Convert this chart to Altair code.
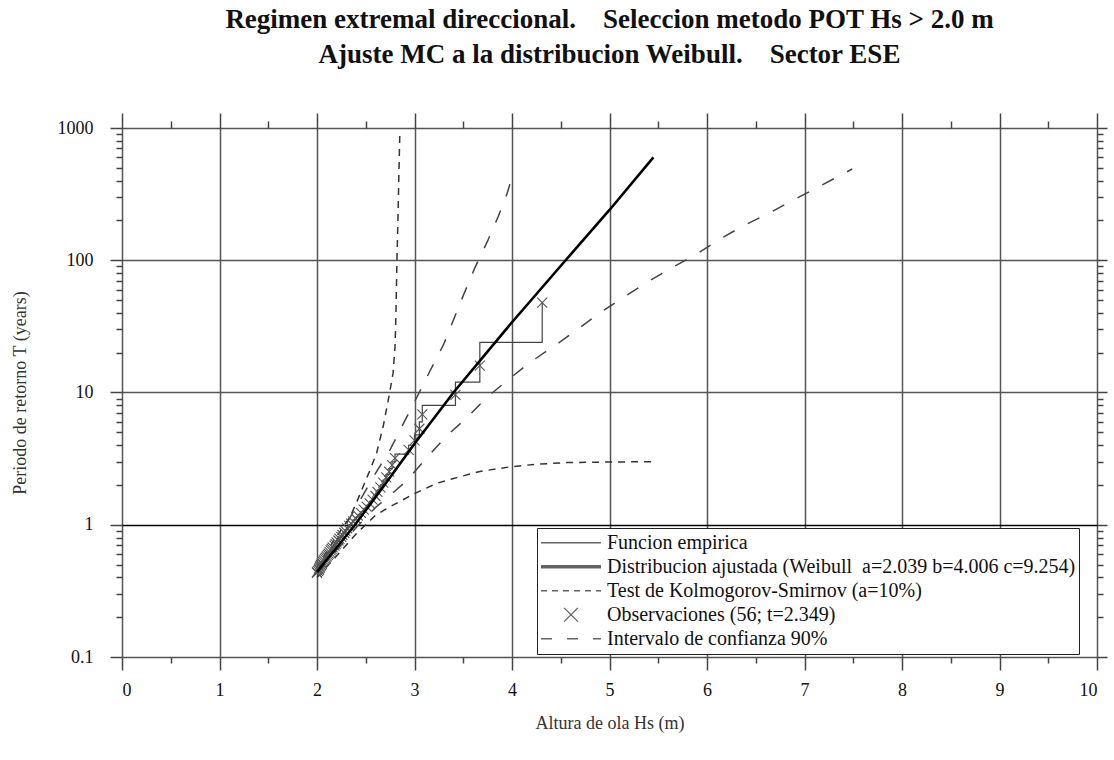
import altair as alt
import pandas as pd

FONT = "Liberation Serif"

# ---------------- data ----------------
# observations, ranked from largest (k=1) to smallest (k=56)
obs_hs = [4.31, 3.67, 3.42, 3.08, 3.05, 3.00, 2.94, 2.80, 2.77, 2.74,
          2.71, 2.68, 2.65, 2.62, 2.60, 2.57, 2.54, 2.51, 2.48, 2.45,
          2.42, 2.40, 2.37, 2.35, 2.33, 2.31, 2.29, 2.28, 2.26, 2.25,
          2.23, 2.22, 2.20, 2.19, 2.18, 2.16, 2.15, 2.14, 2.13, 2.12,
          2.11, 2.10, 2.09, 2.08, 2.07, 2.06, 2.05, 2.05, 2.04, 2.03,
          2.03, 2.02, 2.02, 2.01, 2.00, 2.00]
obs_T = [47.90, 15.97, 9.58, 6.84, 5.32, 4.35, 3.68, 3.19, 2.82, 2.52,
         2.28, 2.08, 1.92, 1.77, 1.65, 1.55, 1.45, 1.37, 1.30, 1.23,
         1.17, 1.11, 1.06, 1.02, 0.98, 0.94, 0.90, 0.87, 0.84, 0.81,
         0.785, 0.76, 0.737, 0.715, 0.694, 0.675, 0.656, 0.639, 0.622, 0.606,
         0.591, 0.577, 0.564, 0.551, 0.538, 0.526, 0.515, 0.504, 0.494, 0.484,
         0.474, 0.465, 0.456, 0.448, 0.439, 0.432]
# empirical step levels (top of rank k+1 / bottom of rank k), k = 1..55
step_T = [23.95, 11.98, 7.98, 5.99, 4.79, 3.99, 3.42, 2.99, 2.66, 2.40,
          2.18, 2.00, 1.84, 1.71, 1.60, 1.50, 1.41, 1.33, 1.26, 1.20,
          1.14, 1.09, 1.04, 1.00, 0.96, 0.92, 0.89, 0.86, 0.83, 0.80,
          0.77, 0.75, 0.73, 0.70, 0.68, 0.67, 0.65, 0.63, 0.61, 0.60,
          0.58, 0.57, 0.56, 0.54, 0.53, 0.52, 0.51, 0.50, 0.49, 0.48,
          0.47, 0.46, 0.45, 0.44, 0.435]
step_top = 47.9
step_bottom = 0.43

fit_hs = [2.00, 2.20, 2.39, 2.70, 3.00, 3.40, 4.00, 4.55, 5.00, 5.45]
fit_T = [0.44, 0.67, 1.00, 2.03, 4.10, 10.0, 34.0, 100.0, 240.0, 600.0]

ks_up_hs = [2.00, 2.10, 2.17, 2.25, 2.34, 2.41, 2.48, 2.54, 2.61, 2.68,
            2.74, 2.78, 2.80, 2.81, 2.82, 2.83, 2.84, 2.85]
ks_up_T = [0.47, 0.63, 0.75, 0.92, 1.15, 1.50, 2.00, 2.55, 3.45, 5.6,
           9.5, 14.0, 22.0, 40.0, 100.0, 200.0, 450.0, 950.0]

ks_lo_hs = [2.00, 2.20, 2.40, 2.60, 2.75, 2.85, 3.00, 3.23, 3.40, 3.67,
            3.98, 4.25, 4.56, 4.97, 5.45]
ks_lo_T = [0.40, 0.58, 0.85, 1.18, 1.37, 1.50, 1.72, 2.06, 2.24, 2.53,
           2.74, 2.87, 2.95, 2.98, 3.00]

ci_up_hs = [2.00, 2.20, 2.40, 2.60, 2.75, 2.90, 3.04, 3.16, 3.30, 3.50,
            3.62, 3.75, 3.86, 3.95, 4.02]
ci_up_T = [0.45, 0.76, 1.35, 2.45, 3.7, 6.1, 9.7, 14.6, 23.2, 54.0,
           88.0, 140.0, 215.0, 320.0, 480.0]

ci_lo_hs = [2.00, 2.20, 2.40, 2.60, 2.80, 2.92, 3.13, 3.33, 3.54, 3.74,
            3.95, 4.18, 4.49, 4.65, 4.90, 5.14, 5.38, 5.64, 5.89, 6.13,
            6.37, 6.65, 6.90, 7.16, 7.49]
ci_lo_T = [0.42, 0.64, 0.95, 1.35, 1.80, 2.15, 3.23, 4.71, 6.47, 9.15,
           12.3, 16.8, 24.0, 29.3, 39.9, 52.3, 67.7, 88.0, 111.0, 144.0,
           182.0, 230.0, 289.0, 364.0, 490.0]

legend_labels = [
    "Funcion empirica",
    "Distribucion ajustada (Weibull\u00a0 a=2.039 b=4.006 c=9.254)",
    "Test de Kolmogorov-Smirnov (a=10%)",
    "Observaciones (56; t=2.349)",
    "Intervalo de confianza 90%",
]

title_lines = [
    "Regimen extremal direccional.\u00a0\u00a0\u00a0 Seleccion metodo POT Hs > 2.0 m",
    "Ajuste MC a la distribucion Weibull.\u00a0\u00a0\u00a0 Sector ESE",
]
x_title = "Altura de ola Hs (m)"
y_title = "Periodo de retorno T (years)"

x_ticks = [i * 0.5 for i in range(21)]
y_ticks = [m * 10.0 ** e for e in range(-1, 3) for m in range(1, 10)] + [1000.0]

# ---------------- build tables ----------------
def line_df(xv, yv):
    return pd.DataFrame({"x": xv, "y": yv, "i": list(range(len(xv)))})

levels = [step_top] + step_T + [step_bottom]
n = len(obs_hs)
sx, sy = [], []
for k in range(n, 0, -1):
    sx += [obs_hs[k - 1], obs_hs[k - 1]]
    sy += [levels[k], levels[k - 1]]

xs = alt.Scale(domain=[0, 10], nice=False, zero=False)
ys = alt.Scale(type="log", domain=[0.1, 1000], nice=False)


def lay(df, mark):
    return alt.Chart(df).mark_line(**mark).encode(
        x=alt.X("x:Q", scale=xs, axis=None),
        y=alt.Y("y:Q", scale=ys, axis=None),
        order="i:Q",
    )


GRAY = "#555555"
emp = lay(line_df(sx, sy), dict(color="#444444", strokeWidth=1.2))
fit = lay(line_df(fit_hs, fit_T), dict(color="black", strokeWidth=2.6))
ks_up = lay(line_df(ks_up_hs, ks_up_T), dict(color="#333333", strokeWidth=1.5, strokeDash=[7, 6]))
ks_lo = lay(line_df(ks_lo_hs, ks_lo_T), dict(color="#333333", strokeWidth=1.5, strokeDash=[7, 6]))
ci_up = lay(line_df(ci_up_hs, ci_up_T), dict(color="#444444", strokeWidth=1.5, strokeDash=[13, 15]))
ci_lo = lay(line_df(ci_lo_hs, ci_lo_T), dict(color="#444444", strokeWidth=1.5, strokeDash=[13, 15]))

XSHAPE = "M-1,-1L1,1M-1,1L1,-1"
obs = alt.Chart(pd.DataFrame({"x": obs_hs, "y": obs_T})).mark_point(
    shape=XSHAPE, size=100, filled=False, color=GRAY, strokeWidth=1.1, opacity=1
).encode(
    x=alt.X("x:Q", scale=xs, axis=None),
    y=alt.Y("y:Q", scale=ys, axis=None),
)

MAJ_X = "datum.value % 1 == 0"
MAJ_Y = "abs(log(datum.value)/LN10 - round(log(datum.value)/LN10)) < 0.001"

axis_common = dict(domain=False, tickColor="#444444", tickWidth=1.5)

axis_bottom = alt.Axis(
    orient="bottom", values=x_ticks, grid=True,
    gridColor="#555555", gridWidth=1.5,
    gridOpacity={"condition": {"test": MAJ_X, "value": 1}, "value": 0},
    tickSize={"condition": {"test": MAJ_X, "value": 13}, "value": 6},
    labelExpr=f"({MAJ_X}) ? format(datum.value, '~g') : ''",
    labelFont=FONT, labelFontSize=18, labelColor="#111111", labelPadding=11,
    title=x_title, titleFont=FONT, titleFontSize=18, titleFontWeight="normal",
    titleColor="#333333", titlePadding=15, **axis_common,
)
axis_left = alt.Axis(
    orient="left", values=y_ticks, grid=True,
    gridColor={"condition": {"test": "datum.value == 1", "value": "black"}, "value": "#555555"},
    gridWidth=1.5,
    gridOpacity={"condition": {"test": MAJ_Y, "value": 1}, "value": 0},
    tickSize={"condition": {"test": MAJ_Y, "value": 12}, "value": 6},
    labelExpr=f"({MAJ_Y}) ? format(datum.value, '~g') : ''",
    labelFont=FONT, labelFontSize=18, labelColor="#111111", labelPadding=17,
    title=y_title, titleFont=FONT, titleFontSize=18, titleFontWeight="normal",
    titleColor="#333333", titlePadding=28, **axis_common,
)
axis_top = alt.Axis(
    orient="top", values=x_ticks, grid=False, labels=False, title=None,
    tickSize={"condition": {"test": MAJ_X, "value": 15}, "value": 7},
    **axis_common,
)
axis_right = alt.Axis(
    orient="right", values=y_ticks, grid=False, labels=False, title=None,
    tickSize={"condition": {"test": MAJ_Y, "value": 10}, "value": 6},
    **axis_common,
)

axes_a = alt.Chart(line_df(fit_hs, fit_T)).mark_point(opacity=0).encode(
    x=alt.X("x:Q", scale=xs, axis=axis_bottom),
    y=alt.Y("y:Q", scale=ys, axis=axis_left),
)
axes_b = alt.Chart(line_df(fit_hs, fit_T)).mark_point(opacity=0).encode(
    x=alt.X("x:Q", scale=xs, axis=axis_top),
    y=alt.Y("y:Q", scale=ys, axis=axis_right),
)


# legend symbols (style only): horizontal samples 60px wide in [-1, 1] units
def dashed(dash, gap, width=60.0):
    u = 2.0 / width
    segs, p = [], 0.0
    while p < width:
        a, b = p, min(p + dash, width)
        segs.append(f"M{-1 + a * u:.3f},0H{-1 + b * u:.3f}")
        p += dash + gap
    return "".join(segs)


legend_shapes = [
    "M-1,0H1",
    "M-1,-0.035H1M-1,0H1M-1,0.035H1",
    dashed(6, 5),
    "M-0.23,-0.23L0.23,0.23M-0.23,0.23L0.23,-0.23",
    dashed(11, 15),
]

leg_df = pd.DataFrame({"x": [-5.0] * 5, "y": [1.0] * 5, "s": legend_labels})
leg = alt.Chart(leg_df).mark_point(filled=False, clip=True, color="#222222", strokeWidth=1.3).encode(
    x=alt.X("x:Q", scale=xs, axis=None),
    y=alt.Y("y:Q", scale=ys, axis=None),
    shape=alt.Shape(
        "s:N",
        scale=alt.Scale(domain=legend_labels, range=legend_shapes),
        legend=alt.Legend(
            orient="none", legendX=415, legendY=400, title=None,
            symbolSize=3600, clipHeight=23.5, labelFont=FONT, labelFontSize=20,
            labelColor="#111111", labelLimit=700, labelOffset=5, padding=3,
            rowPadding=0, strokeColor="#222222", fillColor="white",
            symbolStrokeWidth=1.3, symbolStrokeColor="#222222",
        ),
    ),
)

chart = alt.layer(
    axes_a, axes_b, ci_up, ci_lo, ks_up, ks_lo, emp, obs, fit, leg
).resolve_axis(x="independent", y="independent").properties(
    width=975, height=529,
    padding={"left": 122, "top": 128, "right": 17, "bottom": 103},
    autosize=alt.AutoSizeParams(type="none"),
    title=alt.TitleParams(
        text=title_lines, font=FONT, fontSize=27, fontWeight="bold",
        color="#111111", anchor="middle", offset=43, lineHeight=35,
    ),
).configure_view(stroke="#333333", strokeWidth=1.5).configure(background="white")

chart.save("out.html", embed_options={"renderer": "svg", "actions": False})
